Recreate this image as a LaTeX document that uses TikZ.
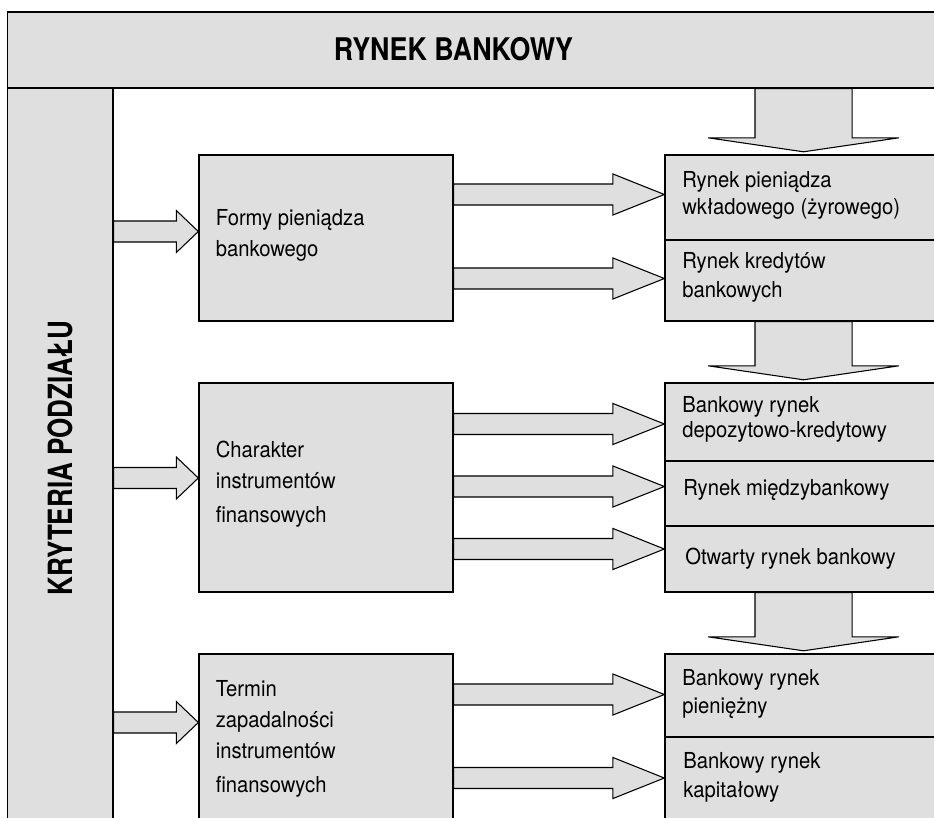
\documentclass[tikz,border=0pt]{standalone}
\usepackage{fontspec}
\setmainfont{TeX Gyre Heros}[FakeStretch=0.92]
\newfontfamily\titlefont{TeX Gyre Heros}[FakeStretch=0.86]
\newfontfamily\sidefont{TeX Gyre Heros}[FakeStretch=0.78]
\usetikzlibrary{fit,calc}
\definecolor{boxgray}{RGB}{223,223,223}
\tikzset{
  box/.style={draw=black, fill=boxgray, line width=1pt, inner sep=0pt},
  blk/.style={draw=black, fill=boxgray, line width=0.8pt, line join=miter},
  txt/.style={anchor=base west, inner sep=0pt, font=\fontsize{16.5pt}{19pt}\selectfont},
}
% right block arrow: from node, to node, y (px)
\newcommand\rarrow[3]{%
  \filldraw[blk] let \p1=(#1.east), \p2=(#2.west), \p3=(0,#3) in
   (\x1,\y3+7.875pt) -- (\x2-38.6pt,\y3+7.875pt) -- (\x2-38.6pt,\y3+15.4pt) -- (\x2,\y3)
   -- (\x2-38.6pt,\y3-15.4pt) -- (\x2-38.6pt,\y3-7.875pt) -- (\x1,\y3-7.875pt) -- cycle;}
% short block arrow from the side bar
\newcommand\larrow[3]{%
  \filldraw[blk] let \p1=(#1.east), \p2=(#2.west), \p3=(0,#3) in
   (\x1,\y3+7.875pt) -- (\x2-16.5pt,\y3+7.875pt) -- (\x2-16.5pt,\y3+15.75pt) -- (\x2,\y3)
   -- (\x2-16.5pt,\y3-15.75pt) -- (\x2-16.5pt,\y3-7.875pt) -- (\x1,\y3-7.875pt) -- cycle;}
% down block arrow
\newcommand\darrow[2]{%
  \filldraw[blk] let \p1=(#1.south), \p2=(#2.north), \p3=(803.5,0) in
   (\x3-36.4pt,\y1) -- (\x3-36.4pt,\y2+12.4pt) -- (\x3-71.6pt,\y2+12.4pt) -- (\x3,\y2+1.9pt)
   -- (\x3+71.6pt,\y2+12.4pt) -- (\x3+36.4pt,\y2+12.4pt) -- (\x3+36.4pt,\y1) -- cycle;}
\begin{document}
\begin{tikzpicture}[x=0.75pt,y=-0.75pt]
\useasboundingbox (0,0) rectangle (934,817);
\clip (0,0) rectangle (934,817);
\fill[white] (0,0) rectangle (934,817);
% frame
\node[box, fit={(7.5,12) (980,88)}] (title) {};
\node[box, fit={(7.5,88) (113,860)}] (side) {};
% left boxes
\node[box, fit={(199,155) (453,321)}] (formy) {};
\node[box, fit={(199,383) (453,592)}] (charakter) {};
\node[box, fit={(199,654) (453,860)}] (termin) {};
% right cells
\node[box, fit={(665,155) (980,240)}] (c1) {};
\node[box, fit={(665,240) (980,321)}] (c2) {};
\node[box, fit={(665,383) (980,461)}] (c3) {};
\node[box, fit={(665,461) (980,526)}] (c4) {};
\node[box, fit={(665,526) (980,592)}] (c5) {};
\node[box, fit={(665,654) (980,737)}] (c6) {};
\node[box, fit={(665,737) (980,860)}] (c7) {};
% arrows
\darrow{title}{c1}
\darrow{c2}{c3}
\darrow{c5}{c6}
\larrow{side}{formy}{231.5}
\larrow{side}{charakter}{478}
\larrow{side}{termin}{722.5}
\rarrow{formy}{c1}{194.5}
\rarrow{formy}{c2}{278.5}
\rarrow{charakter}{c3}{424}
\rarrow{charakter}{c4}{486.5}
\rarrow{charakter}{c5}{549}
\rarrow{termin}{c6}{694.5}
\rarrow{termin}{c7}{778}
% titles
\node[inner sep=0pt, font=\titlefont\bfseries\fontsize{23.4pt}{28pt}\selectfont] (ttl) at (453.5,49.5) {RYNEK BANKOWY};
\node[inner sep=0pt, rotate=90, font=\sidefont\bfseries\fontsize{25pt}{30pt}\selectfont] (stl) at (60,458) {KRYTERIA PODZIAŁU};
% left texts
\node[txt] (f1) at (215.5,225) {Formy pieniądza};
\node[txt] (f2) at (215.5,256) {bankowego};
\node[txt] (h1) at (215.5,457) {Charakter};
\node[txt] (h2) at (215.5,488) {instrumentów};
\node[txt] (h3) at (215.5,522.5) {finansowych};
\node[txt] (m1) at (215.5,696) {Termin};
\node[txt] (m2) at (215.5,727) {zapadalności};
\node[txt] (m3) at (215.5,758) {instrumentów};
\node[txt] (m4) at (215.5,792) {finansowych};
% right texts
\node[txt] (r1a) at (682,187) {Rynek pieniądza};
\node[txt] (r1b) at (682,214) {wkładowego (żyrowego)};
\node[txt] (r2a) at (682,268) {Rynek kredytów};
\node[txt] (r2b) at (682,297) {bankowych};
\node[txt] (r3a) at (682,412) {Bankowy rynek};
\node[txt] (r3b) at (682,437.5) {depozytowo-kredytowy};
\node[txt] (r4) at (683,495) {Rynek międzybankowy};
\node[txt] (r5) at (685,564) {Otwarty rynek bankowy};
\node[txt] (r6a) at (682,685) {Bankowy rynek};
\node[txt] (r6b) at (682,713) {pieniężny};
\node[txt] (r7a) at (683,768) {Bankowy rynek};
\node[txt] (r7b) at (683,797) {kapitałowy};
\end{tikzpicture}
\end{document}
